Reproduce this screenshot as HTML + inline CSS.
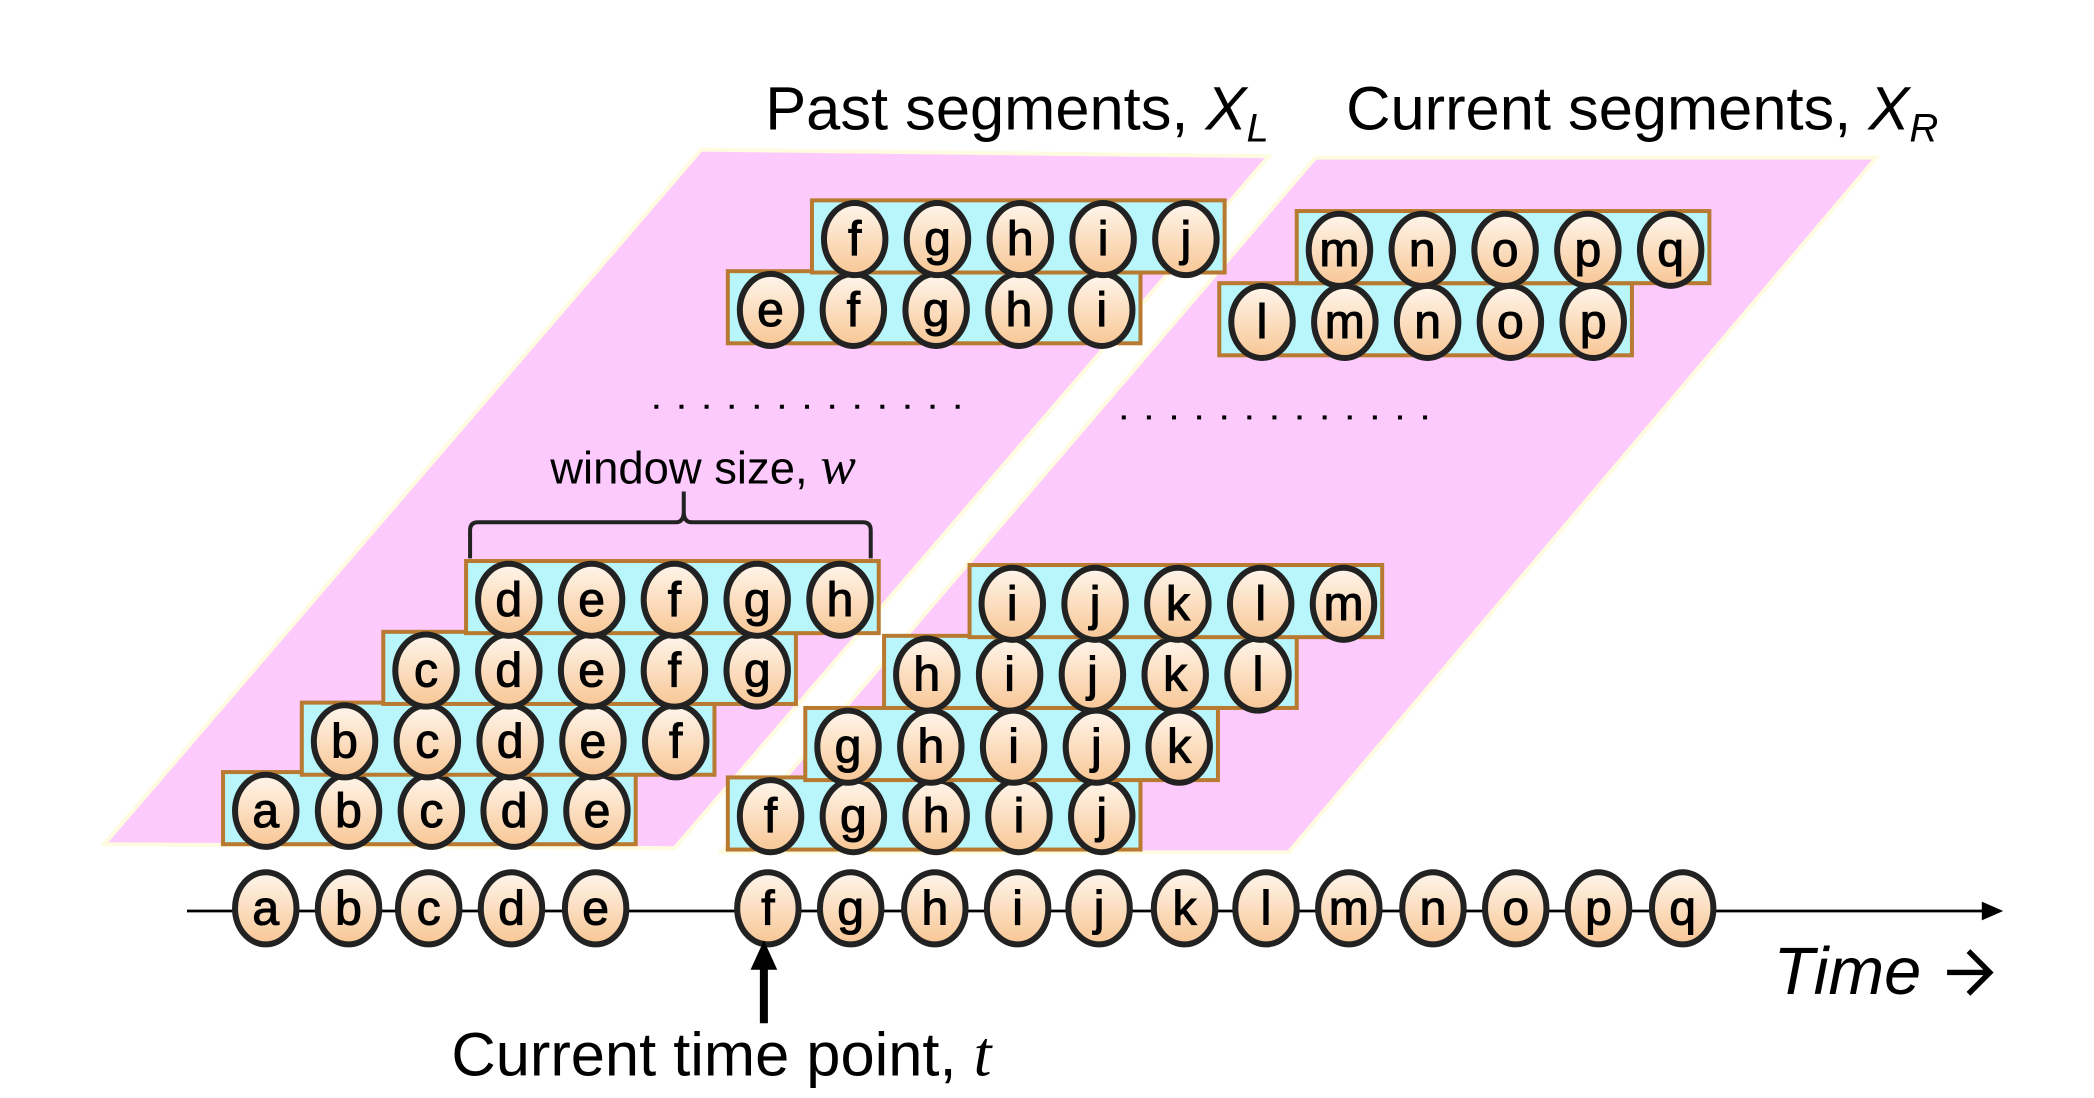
<!DOCTYPE html>
<html><head><meta charset="utf-8">
<style>
html,body{margin:0;padding:0;background:#fff;}
svg{display:block;}
text{font-family:"Liberation Sans",sans-serif;}
</style></head>
<body>
<svg id="fig" width="2094" height="1098" viewBox="0 0 1568 822" preserveAspectRatio="none" xmlns="http://www.w3.org/2000/svg">
<defs>
<linearGradient id="cg" x1="0" y1="0" x2="0" y2="1">
<stop offset="0" stop-color="#fff6ec"/><stop offset="1" stop-color="#f8c694"/>
</linearGradient>
</defs>
<polygon points="78,632 505,635 950,117 525,112" fill="#fdcafd" stroke="#fffbe0" stroke-width="3"/>
<polygon points="540,638 965,638 1405,118 985,118" fill="#fdcafd" stroke="#fffbe0" stroke-width="3"/>
<text x="573" y="97" font-size="46">Past segments, <tspan font-style="italic">X</tspan><tspan font-style="italic" font-size="30" dy="9">L</tspan></text>
<text x="1008" y="97" font-size="46">Current segments, <tspan font-style="italic">X</tspan><tspan font-style="italic" font-size="30" dy="9">R</tspan></text>
<text x="412" y="362" font-size="34">window size, <tspan font-family="Liberation Serif, serif" font-style="italic" font-size="40">w</tspan></text>
<path d="M352,418 L352,397 Q352,391 358,391 L506,391 Q512,391 512,383 L512,368 M512,368 L512,383 Q512,391 518,391 L646,391 Q652,391 652,397 L652,418" fill="none" stroke="#222" stroke-width="3"/>
<g id="dots"></g>
<line x1="140" y1="682" x2="1488" y2="682" stroke="#000" stroke-width="2"/>
<polygon points="1500,682 1484,675 1484,689" fill="#000"/>
<g id="rows"></g>
<g id="axis-circles"></g>
<line x1="572" y1="766" x2="572" y2="722" stroke="#000" stroke-width="6"/>
<polygon points="572,704 562,726 582,726" fill="#000"/>
<text x="338" y="805" font-size="46">Current time point, <tspan font-family="Liberation Serif, serif" font-style="italic" font-size="48">t</tspan></text>
<text x="1328" y="744" font-size="50" font-family="Liberation Serif, serif" font-style="italic">Time</text>
<path d="M1458,728 L1490,728 M1474,712 L1490,728 L1474,744" fill="none" stroke="#000" stroke-width="4"/>
</svg>
<script>
const NS="http://www.w3.org/2000/svg";
const rowLetters=["abcde","bcdef","cdefg","defgh","fghij","ghijk","hijkl","ijklm","efghi","fghij","lmnop","mnopq"];
const rowX=[167,226,287,349,545,603,662,726,545,608,913,971];
const rowY=[578,526,473,420,582,530,476,423,203,150,212,158];
const axisLetters="abcdefghijklmnopq".split("");
const axisX=[199,261,321,383,446,575,637,700,762,823,887,948,1010,1073,1135,1197,1260];
function circle(parent,cx,cy,ch){
  const g=document.createElementNS(NS,"g");
  
  
  const e=document.createElementNS(NS,"ellipse");
  e.setAttribute("cx",cx);e.setAttribute("cy",cy);e.setAttribute("rx",23);e.setAttribute("ry",27);
  e.setAttribute("fill","url(#cg)");e.setAttribute("stroke","#222");e.setAttribute("stroke-width",4.5);
  g.appendChild(e);
  const t=document.createElementNS(NS,"text");
  t.setAttribute("x",cx);t.setAttribute("y",cy+12);t.setAttribute("text-anchor","middle");
  t.setAttribute("font-size",36);t.setAttribute("stroke","#000");t.setAttribute("stroke-width",0.8);
  t.textContent=ch;
  g.appendChild(t);
  parent.appendChild(g);
}
const rows=document.getElementById("rows");
rowLetters.forEach((s,i)=>{
  const g=document.createElementNS(NS,"g");
  
  
  const r=document.createElementNS(NS,"rect");
  r.setAttribute("x",rowX[i]);r.setAttribute("y",rowY[i]);r.setAttribute("width",309);r.setAttribute("height",54);
  r.setAttribute("fill","#b8f6fb");r.setAttribute("stroke","#b87a30");r.setAttribute("stroke-width",3);
  g.appendChild(r);
  s.split("").forEach((ch,j)=>circle(g,rowX[i]+32+j*62,rowY[i]+29,ch));
  rows.appendChild(g);
});
const ac=document.getElementById("axis-circles");
axisLetters.forEach((ch,i)=>circle(ac,axisX[i],680,ch));
const dots=document.getElementById("dots");
[[490,305],[840,313]].forEach(([x0,y])=>{
  for(let k=0;k<13;k++){
    const d=document.createElementNS(NS,"rect");
    
    
    d.setAttribute("x",x0+k*18.8);d.setAttribute("y",y-2);d.setAttribute("width",3);d.setAttribute("height",3);
    d.setAttribute("fill","#000");dots.appendChild(d);
  }
});
</script>
</body></html>
